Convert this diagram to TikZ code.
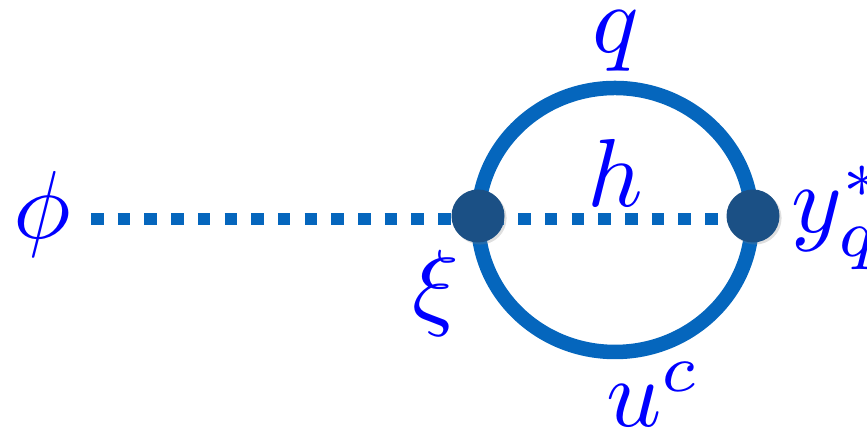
\documentclass[tikz,border=0pt]{standalone}
\usepackage{tikz}
\usetikzlibrary{
  arrows.meta,
  positioning,
  calc,
  backgrounds,
  shadows
}
\definecolor{loopBlue}{RGB}{5,102,189}
\definecolor{vertexBlue}{RGB}{27,80,133}
\definecolor{labelBlue}{RGB}{0,0,255}
\newcommand{\fieldtext}[1]{\scalebox{5.5}{$#1$}}

\tikzset{
  vertex/.style={circle, fill=vertexBlue, minimum size=53*0.02cm, inner sep=0pt,
    drop shadow={shadow xshift=1.2pt, shadow yshift=-1.2pt, opacity=0.25}},
  fieldlabel/.style={text=labelBlue, inner sep=0pt},
  scalarline/.style={loopBlue, line width=12.5*0.02cm, dash pattern=on 12.5*0.02cm off 14.2*0.02cm},
  fermionline/.style={loopBlue, line width=14.5*0.02cm}
}

\begin{document}
\begin{tikzpicture}[x=0.02cm, y=0.02cm]
  \useasboundingbox (0,0) rectangle (867,431);
  \coordinate (phiend) at (91,212);
  \coordinate (loopc) at (615,211);
  \node[vertex] (xi) at (478,215) {};
  \node[vertex] (yq) at (753,215) {};
  \begin{scope}[on background layer]
    \draw[fermionline] (loopc) ellipse [x radius=137, y radius=132];
    \draw[scalarline] (phiend) -- (phiend -| xi) -- (phiend -| yq);
  \end{scope}
  \node[fieldlabel, anchor=base] (lphi) at (42,192) {\fieldtext{\phi}};
  \node[fieldlabel, anchor=base] (lxi) at (436,113) {\fieldtext{\xi}};
  \node[fieldlabel, anchor=base] (lq) at (616,378) {\fieldtext{q}};
  \node[fieldlabel, anchor=base] (lh) at (615,224) {\fieldtext{h}};
  \node[fieldlabel, anchor=base west] (ly) at (791,198) {\fieldtext{y_q^*}};
  \node[fieldlabel, anchor=base west] (lu) at (606,4) {\fieldtext{u^c}};
\end{tikzpicture}
\end{document}
